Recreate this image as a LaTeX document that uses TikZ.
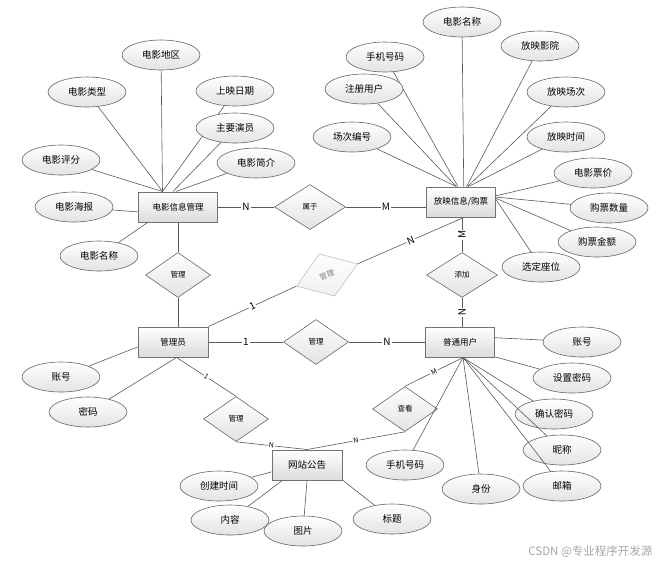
\documentclass[tikz,border=0pt]{standalone}
\usepackage{fontspec}
\setmainfont{Noto Sans CJK SC}
\usetikzlibrary{shapes.geometric}

\begin{document}
\begin{tikzpicture}[x=1pt,y=-1pt,
  ent/.style={draw=black!55,line width=1pt,top color=white,bottom color=black!14,minimum width=70pt,minimum height=30pt,inner sep=0pt,font=\fontsize{8.5}{10}\selectfont},
  attr/.style={ellipse,draw=black!60,line width=0.6pt,top color=white,bottom color=black!11,minimum width=78pt,minimum height=30pt,inner sep=0pt,font=\fontsize{9.5}{11}\selectfont},
  rel/.style={diamond,draw=black!60,line width=0.6pt,top color=white,bottom color=black!11,minimum width=65pt,minimum height=45pt,inner sep=0pt,font=\fontsize{7.5}{9}\selectfont},
  link/.style={draw=black!65,line width=0.6pt},
  card/.style={midway,sloped,fill=white,inner sep=1pt,font=\fontsize{10}{10}\selectfont},
  smallcard/.style={card,font=\fontsize{7}{7}\selectfont}]
\useasboundingbox (0,0) rectangle (663,566);
\node[ent,minimum width=79pt] (film) at (178,207) {电影信息管理};
\node[ent,minimum width=69pt] (show) at (461,202) {放映信息/购票};
\node[ent] (admin) at (173,342) {管理员};
\node[ent,minimum width=69pt] (user) at (460,342) {普通用户};
\node[ent,font=\fontsize{9.5}{11}\selectfont] (notice) at (307,465) {网站公告};
\node[rel,minimum width=71pt] (belong) at (310,207) {属于};
\node[rel] (mgfilm) at (178,275) {管理};
\node[rel,rotate=20,draw=black!25,text=black!50,bottom color=black!6] (mgshow) at (327,275) {管理};
\node[rel,minimum width=71pt] (add) at (462,275) {添加};
\node[rel] (mguser) at (316,342) {管理};
\node[rel] (mgnote) at (236,419) {管理};
\node[rel] (view) at (405,409) {查看};
\foreach \n/\x/\y/\t/\a in {fa1/161/55/电影地区/135,fa2/87/92/电影类型/135,fa3/235/91/上映日期/135,fa4/235/128/主要演员/108,fa5/61/160/电影评分/135,fa6/256/163/电影简介/98,fa7/74/207/电影海报/187,fa8/99/256/电影名称/207}{\node[attr] (\n) at (\x,\y) {\t}; \draw[link] (\n) -- (film.\a);}
\foreach \n/\x/\y/\t/\a in {sa1/462/22/电影名称/80,sa2/385/57/手机号码/101,sa3/540/46/放映影院/70,sa4/364/89/注册用户/107,sa5/566/92/放映场次/67,sa6/352/137/场次编号/107,sa7/566/137/放映时间/64,sa8/593/173/电影票价/10,sa9/609/208/购票数量/8,sa10/597/242/购票金额/6,sa11/541/267/选定座位/4}{\node[attr] (\n) at (\x,\y) {\t}; \draw[link] (\n) -- (show.\a);}
\foreach \n/\x/\y/\t/\a in {ua1/582/342/账号/7,ua2/572/378/设置密码/337,ua3/554/414/确认密码/281,ua4/562/450/昵称/281,ua5/562/486/邮箱/281,ua6/481/489/身份/281,ua7/405/465/手机号码/281}{\node[attr] (\n) at (\x,\y) {\t}; \draw[link] (\n) -- (user.\a);}
\foreach \n/\x/\y/\t/\a in {aa1/61/377/账号/188,aa2/88/412/密码/283}{\node[attr] (\n) at (\x,\y) {\t}; \draw[link] (\n) -- (admin.\a);}
\foreach \n/\x/\y/\t/\a in {na1/219/486/创建时间/191,na2/230/520/内容/212,na3/303/531/图片/270,na4/392/519/标题/337}{\node[attr] (\n) at (\x,\y) {\t}; \draw[link] (\n) -- (notice.\a);}
\draw[link] (film.east) -- (belong.west) node[card]{N};
\draw[link] (belong.east) -- (belong.east -| show.west) node[card]{M};
\draw[link] (mgfilm.north) -- (mgfilm.north |- film.south);
\draw[link] (mgfilm.south) -- (mgfilm.south |- admin.north);
\draw[link] (admin.north east) -- (mgshow.west) node[card]{1};
\draw[link] (mgshow.east) -- (show.280) node[card]{N};
\draw[link] (add.north) -- (add.north |- show.south) node[card]{M};
\draw[link] (add.south) -- (add.south |- user.north) node[card]{N};
\draw[link] (admin.east) -- (mguser.west) node[card]{1};
\draw[link] (mguser.east) -- (mguser.east -| user.west) node[card]{N};
\draw[link] (admin.283) -- (mgnote.north) node[smallcard]{1};
\draw[link] (mgnote.south) -- (notice.north) node[smallcard]{N};
\draw[link] (view.south) -- (notice.north) node[smallcard]{N};
\draw[link] (view.north) -- (user.281) node[smallcard]{M};
\node[anchor=east,text=black!35,font=\fontsize{11.5}{12}\selectfont] (mark) at (656,552) {CSDN @专业程序开发源};
\end{tikzpicture}
\end{document}
